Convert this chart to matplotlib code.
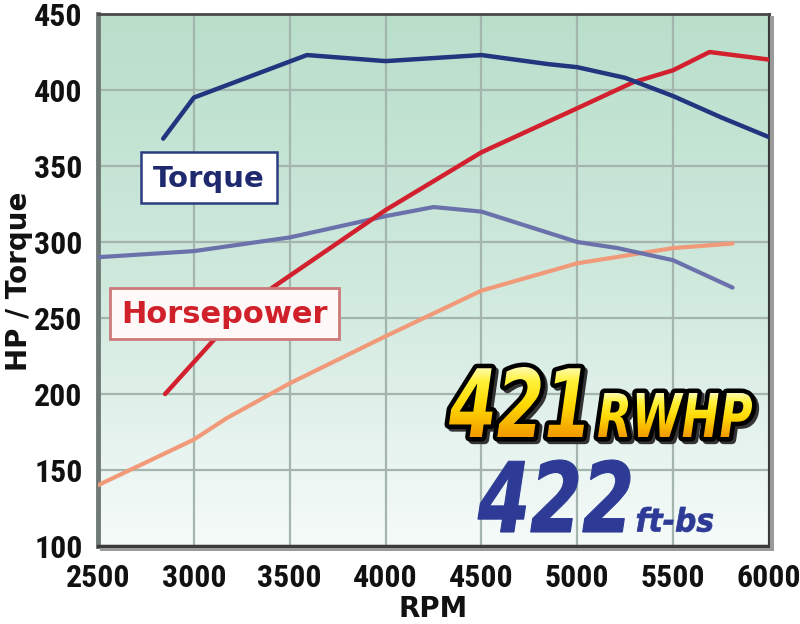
import numpy as np
import matplotlib
matplotlib.use('Agg')
import matplotlib.pyplot as plt
from matplotlib import font_manager as fm
from matplotlib.textpath import TextPath
from matplotlib.font_manager import FontProperties
from matplotlib.patches import PathPatch, Rectangle
from matplotlib.transforms import Affine2D
from matplotlib.colors import LinearSegmentedColormap

# ---------------- data ----------------
torque_rpm = [2840, 3000, 3590, 4000, 4500, 4850, 5000, 5250, 5500, 5750, 6000]
torque_val = [368, 395, 423, 419, 423, 417, 415, 408, 396, 382, 369]

hp_rpm = [2850, 3000, 3100, 3410, 4000, 4500, 5000, 5290, 5500, 5690, 6000]
hp_val = [200, 221, 235, 270, 321, 359, 388, 405, 413, 425, 420]

base_torque_rpm = [2500, 3000, 3500, 4000, 4250, 4500, 5000, 5210, 5500, 5810]
base_torque_val = [290, 294, 303, 317, 323, 320, 300, 296, 288, 270]

base_hp_rpm = [2500, 3000, 3170, 3500, 4000, 4500, 5000, 5500, 5810]
base_hp_val = [140, 170, 184, 207, 238, 268, 286, 296, 299]

x_ticks = [2500, 3000, 3500, 4000, 4500, 5000, 5500, 6000]
y_ticks = [100, 150, 200, 250, 300, 350, 400, 450]

W, H = 800, 624

# --- choose a narrow bold font for tick labels if one is installed ---
names = {f.name for f in fm.fontManager.ttflist}
tick_fp = None
for cand in ['Liberation Sans Narrow', 'Roboto Condensed', 'Open Sans Condensed',
             'Noto Sans Condensed', 'Arial Narrow', 'Noto Sans Display Condensed']:
    if cand in names:
        tick_fp = FontProperties(family=cand, weight='bold')
        break
if tick_fp is None:
    cond = [f for f in fm.fontManager.ttflist
            if f.stretch in ('condensed', 'semi-condensed', 'extra-condensed', 'ultra-condensed')
            and f.weight in ('bold', 700, 600, 'semibold', 800, 'heavy', 'extra bold')]
    if cond:
        tick_fp = FontProperties(fname=cond[0].fname)
    else:
        tick_fp = FontProperties(family='DejaVu Sans', weight='bold')

# size so that "2500" is about 62 px wide
_w = TextPath((0, 0), '2500', size=100, prop=tick_fp).get_extents().width
tick_size = min(24.0, 62.0 / (_w / 100.0 * 100.0 / 72.0))

fig = plt.figure(figsize=(8, 6.24), dpi=100)
fig.patch.set_facecolor('white')

ax = fig.add_axes([98 / W, 1 - 546 / H, (769 - 98) / W, (546 - 14) / H])
ax.set_xlim(2500, 6000)
ax.set_ylim(100, 450)

# background gradient
bg = LinearSegmentedColormap.from_list('bg', [(0.0, '#f6fbfa'), (0.25, '#e2f1eb'),
                                              (0.5, '#cfe9dd'), (1.0, '#b9dfcb')])
grad = np.linspace(0, 1, 256).reshape(-1, 1)
ax.imshow(grad, extent=(2500, 6000, 100, 450), origin='lower', aspect='auto',
          cmap=bg, zorder=0, interpolation='bilinear')

ax.set_xticks(x_ticks)
ax.set_yticks(y_ticks)
ax.grid(True, color='#a3b5ac', lw=1.6, zorder=0.5)
ax.set_axisbelow(True)

ax.set_xticklabels([str(v) for v in x_ticks])
ax.set_yticklabels([str(v) for v in y_ticks])
for lab in ax.get_xticklabels() + ax.get_yticklabels():
    lab.set_fontproperties(tick_fp)
    lab.set_fontsize(tick_size)
ax.tick_params(axis='both', length=0, colors='#111111')
ax.tick_params(axis='y', pad=11)
ax.tick_params(axis='x', pad=12)

ax.spines['left'].set_color('#6f7a76')
ax.spines['left'].set_linewidth(3.5)
ax.spines['bottom'].set_color('#3a3a3a')
ax.spines['bottom'].set_linewidth(2.5)
ax.spines['top'].set_color('#4a4a4a')
ax.spines['top'].set_linewidth(2)
ax.spines['right'].set_color('#3a3a3a')
ax.spines['right'].set_linewidth(2.2)

ax.plot(base_hp_rpm, base_hp_val, color='#f19a7a', lw=3, zorder=3, solid_capstyle='round')
ax.plot(base_torque_rpm, base_torque_val, color='#6b72ab', lw=3, zorder=3, solid_capstyle='round')
ax.plot(hp_rpm, hp_val, color='#d3202e', lw=3.2, zorder=4, solid_capstyle='round')
ax.plot(torque_rpm, torque_val, color='#22357f', lw=3.2, zorder=4, solid_capstyle='round')

ax.set_xlabel('RPM', fontsize=20, fontweight='bold', color='#111111', labelpad=0)
ax.xaxis.set_label_coords((433 - 98) / (769 - 98), -(617 - 546) / (546 - 14), transform=ax.transAxes)
ax.xaxis.label.set_va('baseline')
ax.set_ylabel('HP / Torque', fontsize=20, fontweight='bold', color='#111111')
ax.yaxis.set_label_coords(-(98 - 19) / (769 - 98), (546 - 281) / (546 - 14))
ax.yaxis.label.set_va('center')

# ---------------- overlay in pixel coordinates ----------------
ov = fig.add_axes([0, 0, 1, 1], facecolor='none')
ov.set_xlim(0, W)
ov.set_ylim(0, H)
ov.axis('off')

def Y(y):
    return H - y

# shadows of frame
ov.add_patch(Rectangle((770, Y(550)), 4, 534, color='#9a9a9a', lw=0, zorder=1))
ov.add_patch(Rectangle((100, Y(551)), 674, 3.5, color='#9a9a9a', lw=0, zorder=1))

# label boxes
ov.add_patch(Rectangle((141, Y(203)), 136, 51, fc='white', ec='#2b3c80', lw=1.8, zorder=5))
ov.text(209, Y(187), 'Torque', ha='center', va='baseline', fontsize=21,
        fontweight='bold', color='#1f2a6e', zorder=6)
ov.add_patch(Rectangle((110, Y(339)), 229, 51, fc='#fff8f8', ec='#cc7a7a', lw=2, zorder=5))
ov.text(224.5, Y(323), 'Horsepower', ha='center', va='baseline', fontsize=22,
        fontweight='bold', color='#d0202a', zorder=6)

fp_bi = FontProperties(family='DejaVu Sans', weight='bold', style='italic')

def fit_path(s, x0, x1, ytop, ybot, fp):
    tp = TextPath((0, 0), s, size=100, prop=fp)
    ext = tp.get_extents()
    sx = (x1 - x0) / ext.width
    sy = (ybot - ytop) / ext.height
    tr = Affine2D().translate(-ext.x0, -ext.y0).scale(sx, sy).translate(x0, Y(ybot))
    return tr.transform_path(tp)

yel = LinearSegmentedColormap.from_list('yel', [(0.0, '#f29a00'), (0.45, '#ffd800'),
                                                (0.8, '#fff23a'), (1.0, '#fffbb0')])

def gradient_word(path, x0, x1, ytop, ybot, z):
    sh = Affine2D().translate(3, -3).transform_path(path)
    ov.add_patch(PathPatch(sh, fc='#333333', ec='#333333', lw=6, joinstyle='round', zorder=z))
    ov.add_patch(PathPatch(path, fc='black', ec='black', lw=6.5, joinstyle='round', zorder=z + 0.1))
    clip = PathPatch(path, fc='none', ec='none', zorder=z + 0.2)
    ov.add_patch(clip)
    im = ov.imshow(np.linspace(0, 1, 128).reshape(-1, 1), extent=(x0, x1, Y(ybot), Y(ytop)),
                   origin='lower', aspect='auto', cmap=yel, zorder=z + 0.3, interpolation='bilinear')
    im.set_clip_path(clip)

p421 = fit_path('421', 449, 584, 367, 437, fp_bi)
gradient_word(p421, 449, 584, 367, 437, 7)
pRW = fit_path('RWHP', 598, 752, 393, 437, fp_bi)
gradient_word(pRW, 598, 752, 393, 437, 7)

p422 = fit_path('422', 478, 630, 460, 532, fp_bi)
ov.add_patch(PathPatch(p422, fc='#2d3b96', ec='#2d3b96', lw=0.8, zorder=8))
pft = fit_path('ft-bs', 637, 713, 507, 532, fp_bi)
ov.add_patch(PathPatch(pft, fc='#2d3b96', ec='#2d3b96', lw=0.5, zorder=8))

ov.set_xlim(0, W)
ov.set_ylim(0, H)

fig.savefig('out.png', dpi=100, facecolor='white')
